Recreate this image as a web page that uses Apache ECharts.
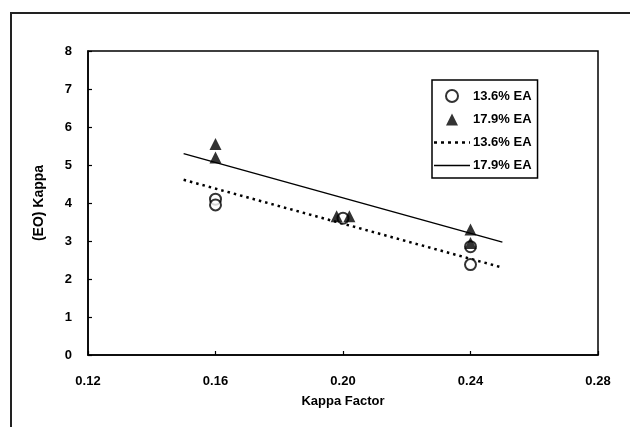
<!DOCTYPE html>
<html>
<head>
<meta charset="utf-8">
<script src="https://cdn.jsdelivr.net/npm/echarts@6/dist/echarts.min.js"></script>
<style>
  html, body { margin: 0; padding: 0; background: #fff; }
  #chart { width: 630px; height: 427px; }
</style>
</head>
<body>
<div id="chart"></div>
<script>
// Kappa factor vs. (EO) Kappa for two effective-alkali charges
const xTicks = [0.12, 0.16, 0.20, 0.24, 0.28];
const yTicks = [0, 1, 2, 3, 4, 5, 6, 7, 8];

// measured points [kappa factor, (EO) kappa]
const ea136Points = [[0.16, 4.1], [0.16, 3.95], [0.20, 3.6], [0.24, 2.85], [0.24, 2.38]];
const ea179Points = [[0.16, 5.55], [0.16, 5.2], [0.198, 3.65], [0.202, 3.65], [0.24, 3.3], [0.24, 2.95]];

// linear trend lines, end points
const ea136Fit = [[0.15, 4.61], [0.25, 2.30]];
const ea179Fit = [[0.15, 5.30], [0.25, 2.97]];

const legendLabels = {
  'ea136': '13.6% EA',
  'ea179': '17.9% EA',
  'ea136fit': '13.6% EA',
  'ea179fit': '17.9% EA'
};

// legend glyphs
const triangleIcon = 'path://M5,0L10,10L0,10Z';
const dottedIcon = 'path://M0,0h3v2.5h-3z M7,0h3v2.5h-3z M14,0h3v2.5h-3z M21,0h3v2.5h-3z M28,0h3v2.5h-3z M35,0h1v2.5h-1z';
const solidIcon = 'path://M0,0h36v1.6h-36z';

const font = '"Liberation Sans", Arial, sans-serif';
const chart = echarts.init(document.getElementById('chart'), null, { renderer: 'canvas' });

chart.setOption({
  backgroundColor: '#fff',
  animation: false,
  color: ['#000'],
  graphic: [{
    type: 'rect',
    shape: { x: 11, y: 13, width: 700, height: 500 },
    style: { fill: 'none', stroke: '#222', lineWidth: 2 },
    silent: true,
    z: -1
  }],
  grid: { left: 88, right: 32, top: 51, bottom: 72, show: true, borderColor: '#000', borderWidth: 1.5 },
  xAxis: {
    type: 'value',
    min: xTicks[0],
    max: xTicks[xTicks.length - 1],
    interval: 0.04,
    name: 'Kappa Factor',
    nameLocation: 'middle',
    nameGap: 40,
    nameTextStyle: { fontFamily: font, fontWeight: 'bold', fontSize: 13, color: '#000' },
    axisLine: { show: true, lineStyle: { color: '#000', width: 1.5 } },
    axisTick: { show: true, inside: true, length: 4, lineStyle: { color: '#000', width: 1.2 } },
    splitLine: { show: false },
    axisLabel: {
      margin: 20,
      fontFamily: font, fontWeight: 'bold', fontSize: 13, color: '#000',
      formatter: v => v.toFixed(2)
    }
  },
  yAxis: {
    type: 'value',
    min: yTicks[0],
    max: yTicks[yTicks.length - 1],
    interval: 1,
    name: '(EO) Kappa',
    nameLocation: 'middle',
    nameGap: 42,
    nameTextStyle: { fontFamily: font, fontWeight: 'bold', fontSize: 14, color: '#000' },
    axisLine: { show: true, lineStyle: { color: '#000', width: 1.5 } },
    axisTick: { show: true, inside: true, length: 4, lineStyle: { color: '#000', width: 1.2 } },
    splitLine: { show: false },
    axisLabel: { margin: 16, fontFamily: font, fontWeight: 'bold', fontSize: 13, color: '#000' }
  },
  legend: {
    orient: 'vertical',
    left: 432,
    top: 80,
    padding: [9, 6, 6, 2],
    itemGap: 10,
    itemWidth: 36,
    itemHeight: 12,
    symbolKeepAspect: true,
    borderColor: '#000',
    borderWidth: 1.5,
    backgroundColor: '#fff',
    textStyle: { fontFamily: font, fontWeight: 'bold', fontSize: 13, color: '#000', padding: [0, 0, 0, -2] },
    formatter: name => legendLabels[name],
    data: [
      { name: 'ea136', icon: 'circle' },
      { name: 'ea179', icon: triangleIcon, itemStyle: { color: '#000' } },
      { name: 'ea136fit', icon: dottedIcon, itemStyle: { color: '#000' } },
      { name: 'ea179fit', icon: solidIcon, itemStyle: { color: '#000' } }
    ]
  },
  series: [
    {
      name: 'ea136fit',
      type: 'line',
      data: ea136Fit,
      symbol: 'none',
      itemStyle: { color: '#000' },
      lineStyle: { color: '#000', width: 2.5, type: [2.5, 4] },
      z: 2
    },
    {
      name: 'ea179fit',
      type: 'line',
      data: ea179Fit,
      symbol: 'none',
      itemStyle: { color: '#000' },
      lineStyle: { color: '#000', width: 1.5, type: 'solid' },
      z: 2
    },
    {
      name: 'ea136',
      type: 'scatter',
      data: ea136Points,
      symbol: 'circle',
      symbolSize: 11,
      itemStyle: { color: '#fff', borderColor: '#000', borderWidth: 2 },
      z: 3
    },
    {
      name: 'ea179',
      type: 'scatter',
      data: ea179Points,
      symbol: 'triangle',
      symbolSize: 12,
      itemStyle: { color: '#000' },
      z: 4
    }
  ]
});
</script>
</body>
</html>
